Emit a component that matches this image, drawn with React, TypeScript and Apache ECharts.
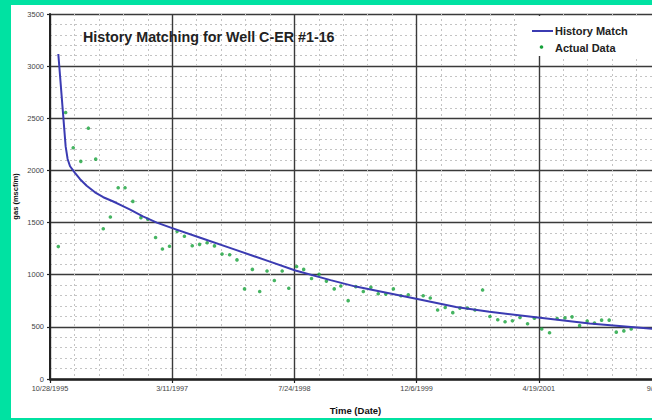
import React, { useEffect, useRef } from "react";
import * as echarts from "echarts";

// Excel date serial numbers (days) for the x axis
const xTickLabels = ["10/28/1995", "3/11/1997", "7/24/1998", "12/6/1999", "4/19/2001", "9/1/2002"];

const actualDates = [
  35034, 35064, 35095, 35126, 35157, 35187, 35218, 35247, 35279, 35307,
  35339, 35372, 35400, 35432, 35460, 35489, 35520, 35550, 35582, 35612,
  35643, 35673, 35704, 35735, 35765, 35796, 35828, 35858, 35888, 35918,
  35950, 35977, 36009, 36038, 36070, 36101, 36131, 36163, 36190, 36220,
  36251, 36282, 36313, 36343, 36374, 36405, 36436, 36466, 36527, 36556,
  36586, 36617, 36648, 36677, 36708, 36739, 36770, 36800, 36832, 36862,
  36892, 36923, 36954, 36982, 37012, 37044, 37075, 37107, 37136, 37167,
  37198, 37228, 37257, 37288, 37317, 37348, 37378,
];
const actualGas = [
  1270, 2555, 2218, 2087, 2405, 2108, 1441, 1553, 1834, 1834,
  1703, 1547, 1532, 1357, 1247, 1273, 1416, 1369, 1278, 1291,
  1307, 1276, 1198, 1191, 1142, 864, 1051, 839, 1036, 945,
  1036, 870, 1079, 1051, 964, 1004, 939, 864, 892, 751,
  886, 839, 880, 817, 814, 864, 798, 808, 798, 777,
  662, 686, 636, 680, 680, 662, 854, 599, 568, 549,
  558, 590, 530, 583, 480, 443, 580, 586, 596, 512,
  555, 536, 564, 564, 449, 461, 480,
];

const matchDates = [
  35034, 35064, 35072, 35082, 35102, 35123, 35150, 35184, 35218, 35259,
  35294, 35328, 35380, 35437, 35500, 35615, 35751, 35888, 36004, 36148,
  36251, 36503, 36661, 36798, 37005, 37208, 37467, 37500,
];
const matchGas = [
  3116, 2230, 2110, 2040, 1977, 1916, 1853, 1790, 1743, 1702,
  1663, 1625, 1560, 1500, 1447, 1354, 1245, 1135, 1041, 948,
  886, 767, 690, 645, 588, 533, 480, 476,
];

const FONT = "Liberation Sans, Arial, sans-serif";

export default function App() {
  const ref = useRef<HTMLDivElement>(null);

  useEffect(() => {
    if (!ref.current) return;
    const chart = echarts.init(ref.current, null, { renderer: "svg" });
    const axisLineColor = "#222";
    chart.setOption({
      animation: false,
      backgroundColor: "transparent",
      textStyle: { fontFamily: FONT },
      title: {
        text: "History Matching for Well C-ER #1-16",
        left: 78,
        top: 25,
        textStyle: { fontFamily: FONT, fontWeight: "bold", fontSize: 14.3, color: "#222" },
      },
      legend: { show: false },
      grid: { left: 50, top: 14, right: 39, bottom: 32, containLabel: false },
      xAxis: {
        type: "value",
        min: 35000,
        max: 37500,
        interval: 500,
        name: "Time (Date)",
        nameLocation: "middle",
        nameGap: 26,
        nameMoveOverlap: false,
        nameTextStyle: { fontFamily: FONT, fontWeight: "bold", fontSize: 9.5, color: "#111" },
        axisLine: { show: true, onZero: false, lineStyle: { color: axisLineColor, width: 2.5 } },
        axisTick: { show: true, length: 4, lineStyle: { color: axisLineColor, width: 1.2 } },
        axisLabel: {
          margin: 6,
          fontSize: 7.3,
          color: "#444",
          fontFamily: FONT,
          formatter: (v: number) => xTickLabels[Math.round((v - 35000) / 500)] ?? "",
        },
        splitLine: { show: true, lineStyle: { color: "#3a3a3a", width: 1.4 } },
        minorTick: { show: false, splitNumber: 5 },
        minorSplitLine: { show: true, lineStyle: { color: "#c4c4c4", width: 1, type: [2, 3] } },
      },
      yAxis: {
        type: "value",
        min: 0,
        max: 3500,
        interval: 500,
        name: "gas (mscf/m)",
        nameLocation: "middle",
        nameGap: 31,
        nameMoveOverlap: false,
        nameRotate: 90,
        nameTextStyle: { fontFamily: FONT, fontWeight: "bold", fontSize: 7.5, color: "#111" },
        axisLine: { show: true, onZero: false, lineStyle: { color: axisLineColor, width: 2 } },
        axisTick: { show: true, length: 3, lineStyle: { color: axisLineColor, width: 1.2 } },
        axisLabel: {
          margin: 6,
          fontSize: 7.5,
          color: "#444",
          fontFamily: FONT,
          formatter: (v: number) => String(v),
        },
        splitLine: { show: true, lineStyle: { color: "#3a3a3a", width: 1.4 } },
        minorTick: { show: false, splitNumber: 5 },
        minorSplitLine: { show: true, lineStyle: { color: "#c4c4c4", width: 1, type: [2, 3] } },
      },
      series: [
        {
          name: "Actual Data",
          type: "scatter",
          symbol: "circle",
          symbolSize: 3.6,
          itemStyle: { color: "#16a13a" },
          data: actualDates.map((d, i) => [d, actualGas[i]]),
          z: 2,
        },
        {
          name: "History Match",
          type: "line",
          showSymbol: false,
          lineStyle: { color: "#3b3bb2", width: 2 },
          data: matchDates.map((d, i) => [d, matchGas[i]]),
          z: 3,
        },
      ],
      graphic: [
        {
          type: "rect",
          shape: { x: 519, y: 16, width: 150, height: 40 },
          style: { fill: "#ffffff" },
          z: 10,
        },
        {
          type: "line",
          shape: { x1: 532, y1: 31, x2: 553, y2: 31 },
          style: { stroke: "#3b3bb2", lineWidth: 2 },
          z: 11,
        },
        {
          type: "circle",
          shape: { cx: 541.5, cy: 47, r: 1.8 },
          style: { fill: "#16a13a" },
          z: 11,
        },
        {
          type: "text",
          x: 555,
          y: 31,
          style: {
            text: "History Match",
            fontFamily: FONT,
            fontWeight: "bold",
            fontSize: 11,
            fill: "#222",
            verticalAlign: "middle",
          },
          z: 11,
        },
        {
          type: "text",
          x: 555,
          y: 48,
          style: {
            text: "Actual Data",
            fontFamily: FONT,
            fontWeight: "bold",
            fontSize: 11,
            fill: "#222",
            verticalAlign: "middle",
          },
          z: 11,
        },
      ],
    });
    return () => chart.dispose();
  }, []);

  return (
    <div
      style={{
        position: "fixed",
        left: 0,
        top: 0,
        width: 652,
        height: 420,
        background: "#00e2a2",
        overflow: "hidden",
      }}
    >
      <div
        style={{
          position: "absolute",
          left: 11,
          top: 5,
          width: 641,
          height: 413,
          background: "#ffffff",
          overflow: "hidden",
        }}
      >
        <div ref={ref} style={{ position: "absolute", left: -11, top: -5, width: 700, height: 420 }} />
      </div>
    </div>
  );
}
